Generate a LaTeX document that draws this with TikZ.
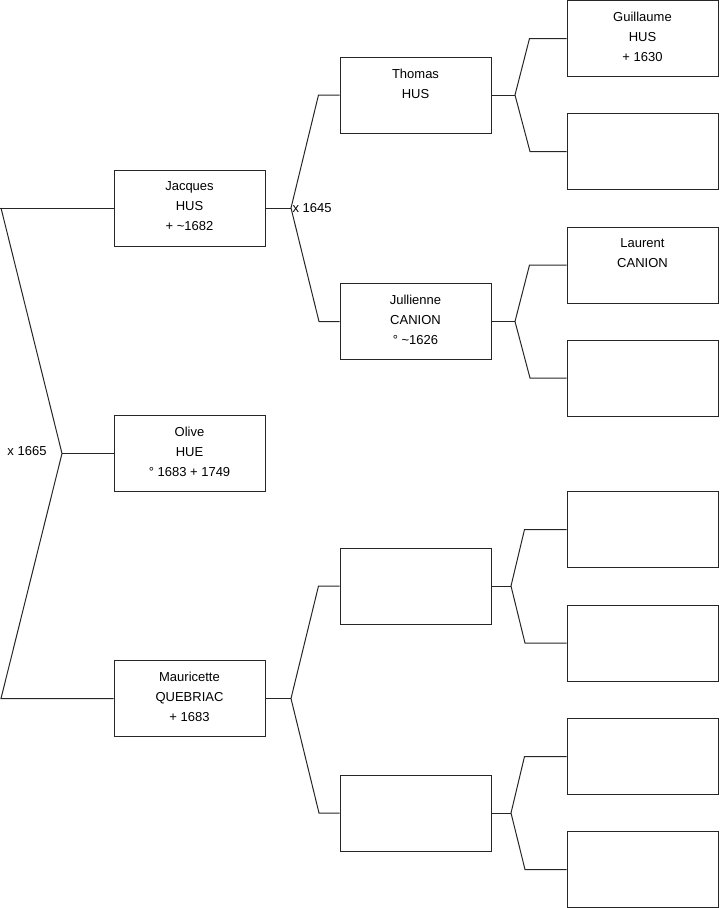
\documentclass[tikz,border=0pt]{standalone}
\usepackage{fontspec}
\setmainfont{Liberation Sans}
\begin{document}
\begin{tikzpicture}[x=0.75pt,y=-0.75pt,
  person/.style={draw=black!85, line width=0.75pt, minimum width=113.25pt, minimum height=57pt, inner sep=0pt, fill=white},
  ptext/.style={anchor=north, inner sep=0pt, align=center, font=\fontsize{9.75}{15}\selectfont, yshift=-9pt},
  link/.style={line width=0.75pt, draw=black!85},
  marr/.style={font=\fontsize{9.75}{12}\selectfont, inner sep=1pt}]
\useasboundingbox (0,0) rectangle (719,908);

% generation 1
\node[person] (jacques) at (189.5,208) {};
\node[ptext] (jacques-t) at (jacques.north) {Jacques\\HUS\\+ \textasciitilde1682};
\node[person] (olive) at (189.5,453.5) {};
\node[ptext] (olive-t) at (olive.north) {Olive\\HUE\\° 1683 + 1749};
\node[person] (mauricette) at (189.5,698.5) {};
\node[ptext] (mauricette-t) at (mauricette.north) {Mauricette\\QUEBRIAC\\+ 1683};

% generation 2
\node[person] (thomas) at (415.5,95) {};
\node[ptext] (thomas-t) at (thomas.north) {Thomas\\HUS};
\node[person] (jullienne) at (415.5,321.5) {};
\node[ptext] (jullienne-t) at (jullienne.north) {Jullienne\\CANION\\° \textasciitilde1626};
\node[person] (b3) at (415.5,586) {};
\node[person] (b4) at (415.5,813) {};

% generation 3
\node[person] (guillaume) at (642.5,38.5) {};
\node[ptext] (guillaume-t) at (guillaume.north) {Guillaume\\HUS\\+ 1630};
\node[person] (c2) at (642.5,151.5) {};
\node[person] (laurent) at (642.5,265) {};
\node[ptext] (laurent-t) at (laurent.north) {Laurent\\CANION};
\node[person] (c4) at (642.5,378) {};
\node[person] (c5) at (642.5,529.5) {};
\node[person] (c6) at (642.5,643) {};
\node[person] (c7) at (642.5,756.5) {};
\node[person] (c8) at (642.5,869.5) {};

% root connector
\coordinate (r1) at (1,208);
\coordinate (r2) at (1,698.5);
\coordinate (v0) at (62,453.5);
\draw[link] (jacques.west) -- (0,208);
\draw[link] (r1) -- (v0) -- (r2) -- (mauricette.west);
\draw[link] (v0) -- (olive.west);
\node[marr] (m0) at (27,451) {x 1665};

% Jacques' parents
\coordinate (v1) at (291,208);
\draw[link] (jacques.east) -- (v1);
\draw[link] (thomas.west) -- ++(-21,0) -- (v1) -- (319,321.5) -- (jullienne.west);
\node[marr, anchor=west] (m1) at (v1) {x 1645};

% Mauricette's parents
\coordinate (v2) at (291,698.5);
\draw[link] (mauricette.east) -- (v2);
\draw[link] (b3.west) -- ++(-21,0) -- (v2) -- (319,813) -- (b4.west);

% Thomas' parents
\coordinate (v3) at (515,95);
\draw[link] (thomas.east) -- (v3);
\draw[link] (guillaume.west) -- ++(-37,0) -- (v3) -- (530,151.5) -- (c2.west);

% Jullienne's parents
\coordinate (v4) at (515,321.5);
\draw[link] (jullienne.east) -- (v4);
\draw[link] (laurent.west) -- ++(-37,0) -- (v4) -- (530,378) -- (c4.west);

% b3 parents
\coordinate (v5) at (511,586);
\draw[link] (b3.east) -- (v5);
\draw[link] (c5.west) -- ++(-42,0) -- (v5) -- (525,643) -- (c6.west);

% b4 parents
\coordinate (v6) at (511,813);
\draw[link] (b4.east) -- (v6);
\draw[link] (c7.west) -- ++(-42,0) -- (v6) -- (525,869.5) -- (c8.west);
\end{tikzpicture}
\end{document}
